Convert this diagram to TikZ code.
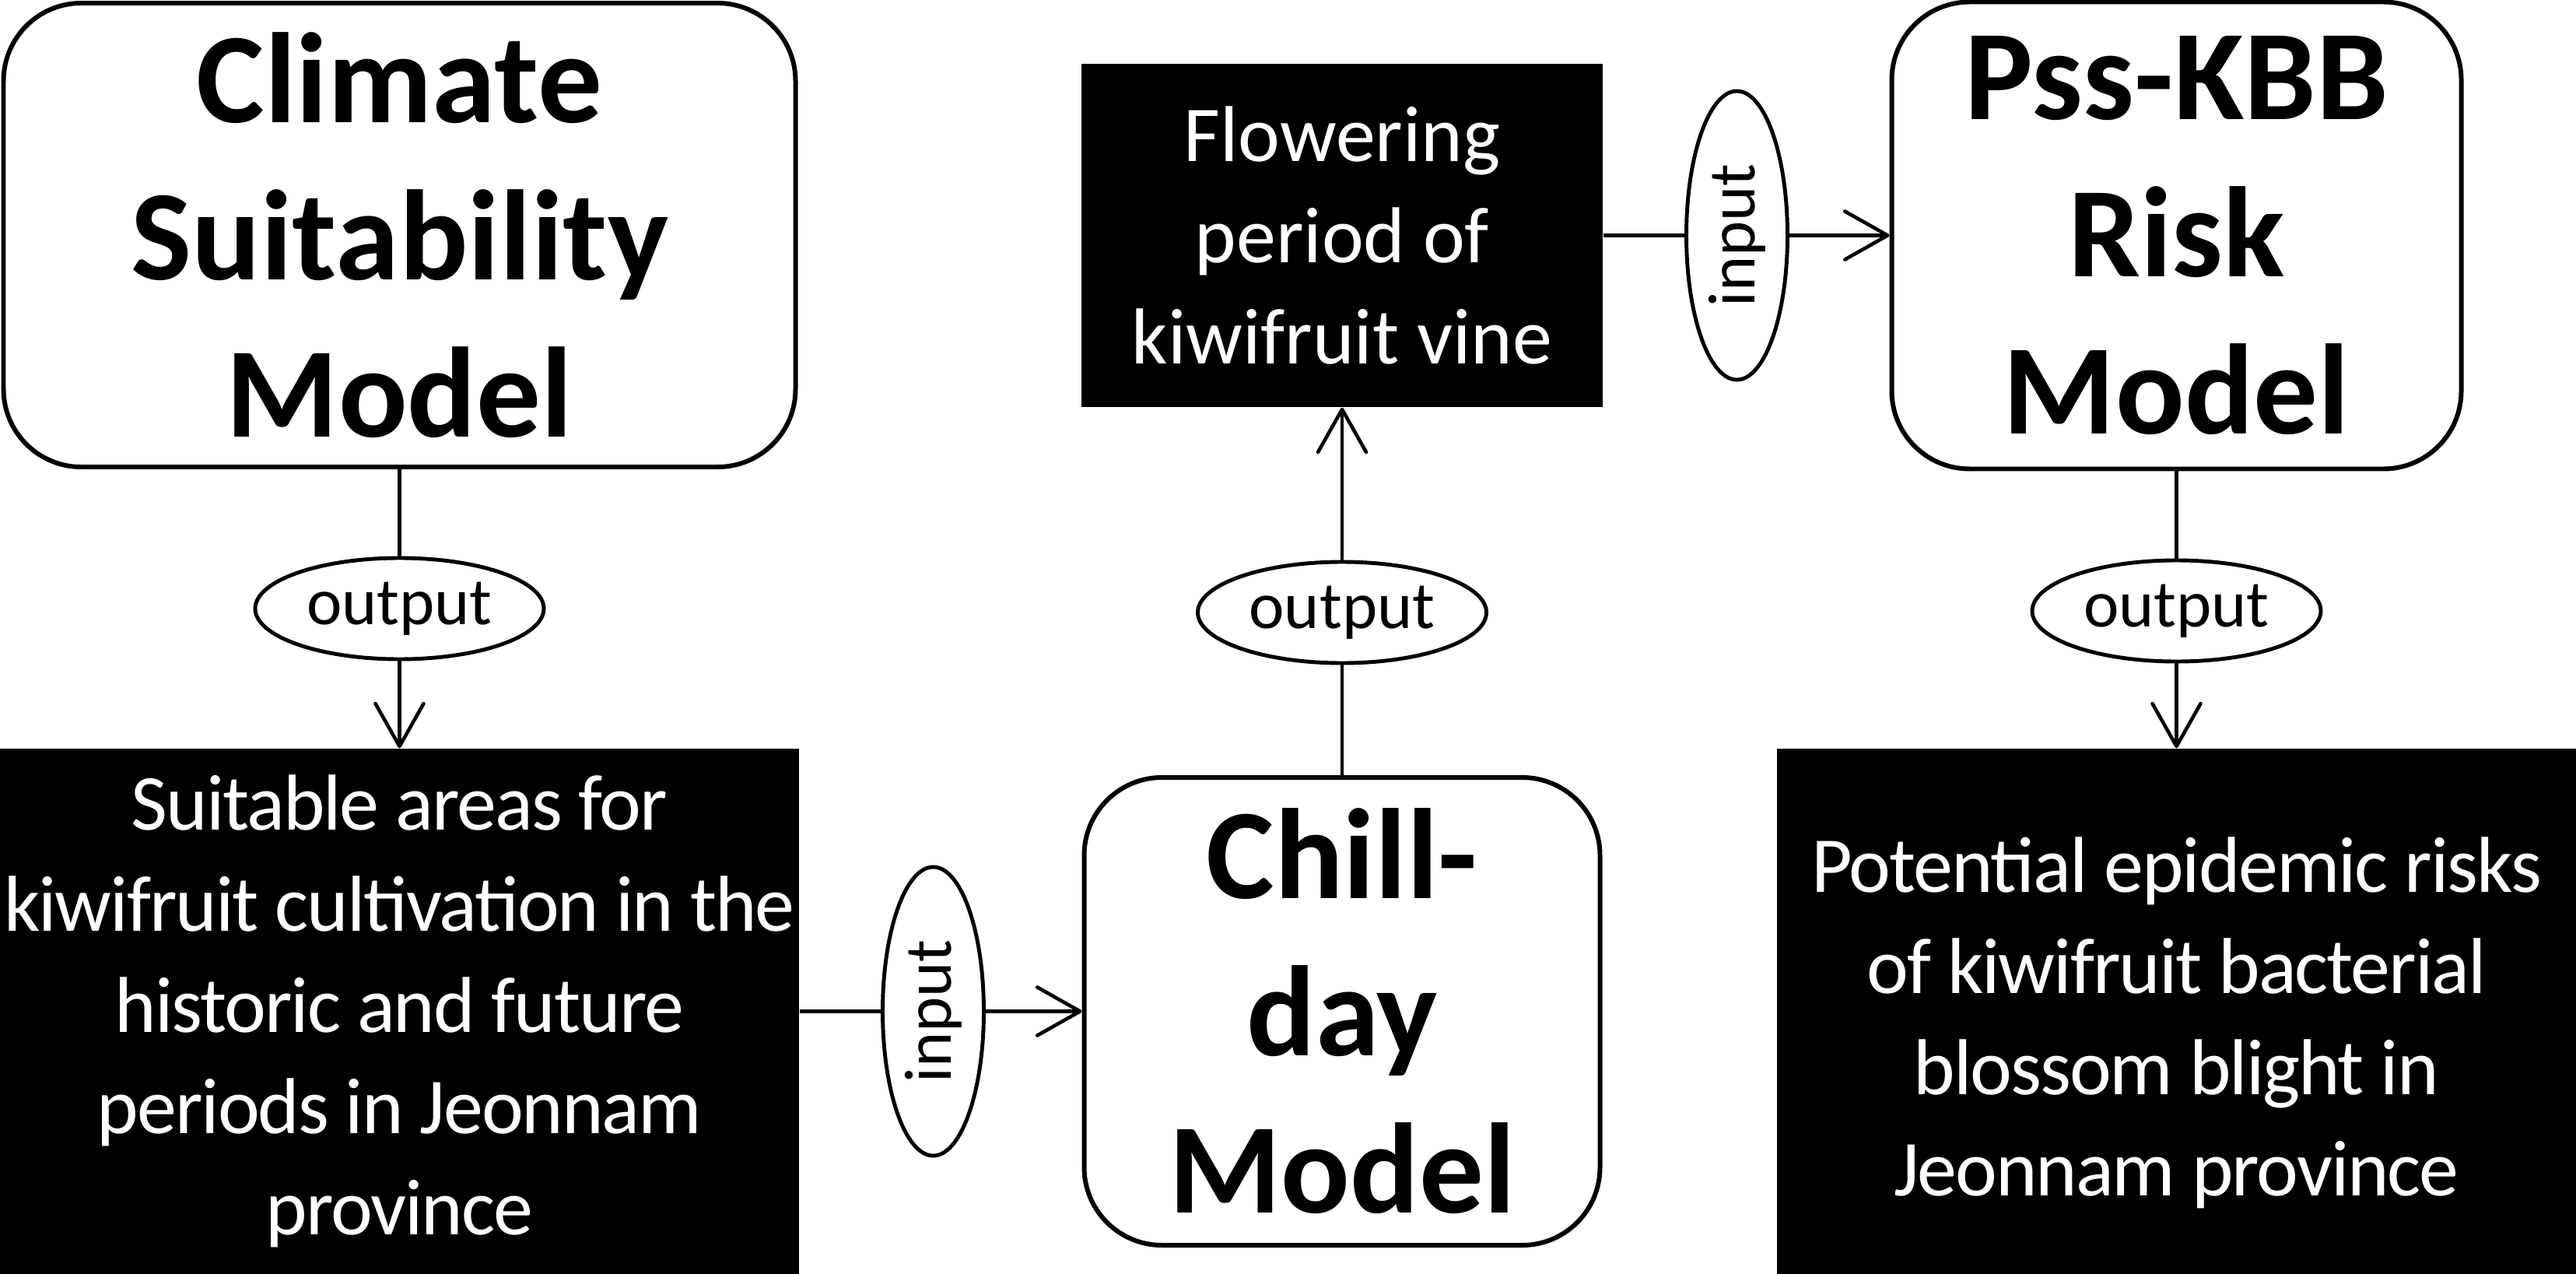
\documentclass[tikz,border=0pt]{standalone}
\usepackage{fontspec}
\setmainfont{Carlito}
\usetikzlibrary{shapes.geometric,arrows.meta}

\begin{document}
\begin{tikzpicture}
[x=1cm,y=-1cm,
  model/.style={draw,line width=1.7pt,rounded corners=1cm,align=center,inner sep=0pt,
    font=\bfseries\fontsize{47}{57.5}\selectfont},
  result/.style={fill=black,text=white,align=center,inner sep=0pt,
    font=\fontsize{29}{37}\selectfont},
  tight/.style={font=\fontsize{29}{37}\selectfont\addfontfeature{LetterSpace=-2}},
  tag/.style={draw,ellipse,line width=1.4pt,fill=white,inner sep=0pt,
    minimum width=3.71cm,minimum height=1.30cm,font=\fontsize{24.5}{29}\selectfont},
  lineDecorate/.style={-,line width=1.3pt},
  arrowDecorate/.style={line width=1.3pt,-{Straight Barb[length=5.5mm,width=6.2mm,round]}}]
\useasboundingbox (0,0) rectangle (33.11,16.37);
%% models and results
\node[model,minimum width=10.18cm,minimum height=5.96cm] (climate) at (5.135,3.02)
  {Climate\\Suitability\\Model};
\node[result,tight,minimum width=10.27cm,minimum height=6.75cm] (suitable) at (5.135,12.995)
  {Suitable areas for\\kiwifruit cultivation in the\\historic and future\\periods in Jeonnam\\province};
\node[model,minimum width=6.63cm,minimum height=6.01cm] (chill) at (17.25,12.995)
  {Chill-\\day\\Model};
\node[result,minimum width=6.70cm,minimum height=4.41cm] (flowering) at (17.25,3.025)
  {Flowering\\period of\\kiwifruit vine};
\node[model,minimum width=7.32cm,minimum height=6.00cm] (psskbb) at (27.975,3.025)
  {Pss-KBB\\Risk\\Model};
\node[result,tight,minimum width=10.27cm,minimum height=6.75cm] (risk) at (27.975,12.995)
  {\rule{0pt}{1cm}Potential epidemic risks\\of kiwifruit bacterial\\blossom blight in\\Jeonnam province};
%% labels on the connectors
\foreach \tagname/\word/\x/\y/\turn in {
  out1/output/5.135/7.82/0, in1/input/11.995/12.995/90,
  out2/output/17.25/7.87/0, in2/input/22.325/3.025/90,
  out3/output/27.975/7.85/0}
{
  \node[tag,rotate=\turn] (\tagname) at (\x,\y) {\word};
}
%% connectors
\path
\foreach \startnode/\endnode in {
  climate/out1, suitable/in1, chill/out2, flowering/in2, psskbb/out3}
{
  (\startnode) edge[lineDecorate] (\endnode)
};
\path
\foreach \startnode/\endnode in {
  out1/suitable, in1/chill, out2/flowering, in2/psskbb, out3/risk}
{
  (\startnode) edge[arrowDecorate] (\endnode)
};
\end{tikzpicture}
\end{document}
